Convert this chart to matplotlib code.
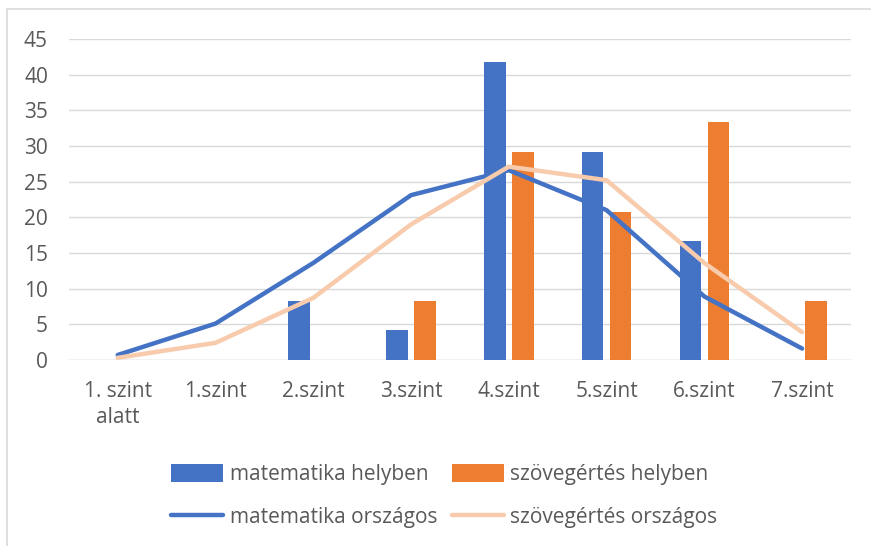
import numpy as np
import matplotlib.pyplot as plt
from matplotlib.patches import Rectangle

# Kategóriák és értékek (%)
categories = ["1. szint\nalatt", "1.szint", "2.szint", "3.szint",
              "4.szint", "5.szint", "6.szint", "7.szint"]
matek_helyben = [0, 0, 8.3, 4.2, 41.7, 29.2, 16.7, 0]
szoveg_helyben = [0, 0, 0, 8.3, 29.2, 20.8, 33.3, 8.3]
matek_orszagos = [0.7, 5.1, 13.6, 23.1, 26.6, 21.0, 8.9, 1.6]
szoveg_orszagos = [0.3, 2.4, 8.7, 19.0, 27.1, 25.2, 13.6, 3.9]

BLUE = "#4472C4"
ORANGE = "#ED7D31"
PEACH = "#F8CBAD"
TEXT = "#595959"

plt.rcParams['font.family'] = ['Open Sans', 'DejaVu Sans']

fig = plt.figure(figsize=(8.71, 5.46), dpi=100)
ax = fig.add_axes([0.079, 0.3407, 0.898, 0.588])

x = np.arange(len(categories))
w = 0.22
b1 = ax.bar(x - 0.143, matek_helyben, w, color=BLUE, zorder=2, label="matematika helyben")
b2 = ax.bar(x + 0.143, szoveg_helyben, w, color=ORANGE, zorder=2, label="szövegértés helyben")
l1, = ax.plot(x, matek_orszagos, color=BLUE, lw=3.2, zorder=3,
              solid_capstyle='round', label="matematika országos")
l2, = ax.plot(x, szoveg_orszagos, color=PEACH, lw=3.2, zorder=3,
              solid_capstyle='round', label="szövegértés országos")

ax.set_xlim(-0.5, len(categories) - 0.5)
ax.set_ylim(0, 45)
ax.set_yticks(range(0, 46, 5))
ax.yaxis.grid(True, color="#D9D9D9", lw=1, zorder=0)
ax.set_axisbelow(True)
for s in ax.spines.values():
    s.set_visible(False)
ax.axhline(0, color="#D9D9D9", lw=1, zorder=1)
ax.set_xticks(x)
ax.set_xticklabels(categories, linespacing=1.3)
ax.tick_params(length=0, labelsize=15, labelcolor=TEXT)
ax.tick_params(axis='x', pad=15)
ax.tick_params(axis='y', pad=15)

fig.legend([b1, l1, b2, l2],
           ["matematika helyben", "matematika országos",
            "szövegértés helyben", "szövegértés országos"],
           ncol=2, loc="center", bbox_to_anchor=(0.51, 0.0916),
           frameon=False, fontsize=15, labelcolor=TEXT,
           handlelength=2.5, handleheight=0.9, handletextpad=0.3,
           columnspacing=0.7, labelspacing=1.05)

# keret (bal és felső él látszik)
fig.patches.append(Rectangle((0.008, -0.05), 1.1, 1.0335, transform=fig.transFigure,
                             fill=False, edgecolor="#D9D9D9", lw=1.2))

fig.savefig("out.png", dpi=100)
